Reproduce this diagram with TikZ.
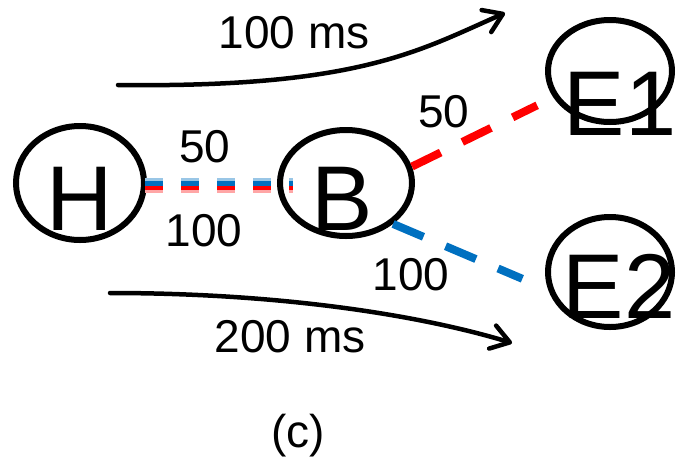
\documentclass[tikz,border=0pt]{standalone}
\usepackage{fontspec}
\setmainfont{Liberation Sans}
\usetikzlibrary{shapes.geometric,arrows.meta}
\definecolor{linkred}{RGB}{255,0,0}
\definecolor{linkblue}{RGB}{0,112,192}
\tikzset{
  hop/.style={draw,ellipse,line width=6pt,inner sep=0pt},
  letter/.style={anchor=base,inner sep=0pt,font=\fontsize{92}{92}\selectfont},
  lbl/.style={anchor=base,inner sep=0pt,font=\fontsize{46}{46}\selectfont},
  delay/.style={line width=4.5pt,line cap=round,-{Straight Barb[length=18pt,width=24pt,round]}},
  shared/.style={dash pattern=on 18pt off 18pt,shorten <=-2pt,shorten >=-16pt},
}
\begin{document}
\begin{tikzpicture}[x=1pt,y=-1pt]
  \useasboundingbox (0,0) rectangle (677,461);
  % hops
  \node[hop,minimum width=128pt,minimum height=114pt] (H) at (80,183) {};
  \node[hop,minimum width=132pt,minimum height=106pt] (B) at (346,183) {};
  \node[hop,minimum width=124pt,minimum height=102pt] (E1) at (610,71) {};
  \node[hop,minimum width=124pt,minimum height=110pt] (E2) at (610,272) {};
  \node[letter] (Ht) at (80,230) {H};
  \node[letter] (Bt) at (342,230) {B};
  \node[letter] (E1t) at (620,135) {E1};
  \node[letter] (E2t) at (619,318) {E2};
  % shared link H--B, blue over red
  \draw[shared,linkblue!40,line width=3pt] ([yshift=3.5pt]H.east) -- ([yshift=3.5pt]B.west);
  \draw[shared,linkblue,line width=5pt] ([yshift=-0.5pt]H.east) -- ([yshift=-0.5pt]B.west);
  \draw[shared,linkred,line width=4pt] ([yshift=-5pt]H.east) -- ([yshift=-5pt]B.west);
  \draw[shared,linkred!35,line width=3pt] ([yshift=-8.5pt]H.east) -- ([yshift=-8.5pt]B.west);
  % B to the two ends
  \draw[linkred,line width=8pt,dash pattern=on 32pt off 24pt,shorten >=18pt] (B.14) -- (E1.205);
  \draw[linkblue,line width=8pt,dash pattern=on 33pt off 24pt,shorten >=28pt] (B.-41) -- (E2.196);
  % link weights
  \node[lbl] (w1) at (205,162) {50};
  \node[lbl] (w2) at (204,246) {100};
  \node[lbl] (w3) at (444,127) {50};
  \node[lbl] (w4) at (411,290) {100};
  % delays
  \coordinate (d1s) at (118,85);
  \coordinate (d1e) at (505,13);
  \coordinate (d2s) at (110,293);
  \coordinate (d2e) at (512,343);
  \draw[delay] (d1s) .. controls (360,88) and (420,50) .. (d1e);
  \draw[delay] (d2s) .. controls (280,293) and (420,315) .. (d2e);
  \node[lbl] (t1) at (294,48) {100 ms};
  \node[lbl] (t2) at (290,352) {200 ms};
  \node[lbl] (cap) at (298,447) {(c)};
\end{tikzpicture}
\end{document}
